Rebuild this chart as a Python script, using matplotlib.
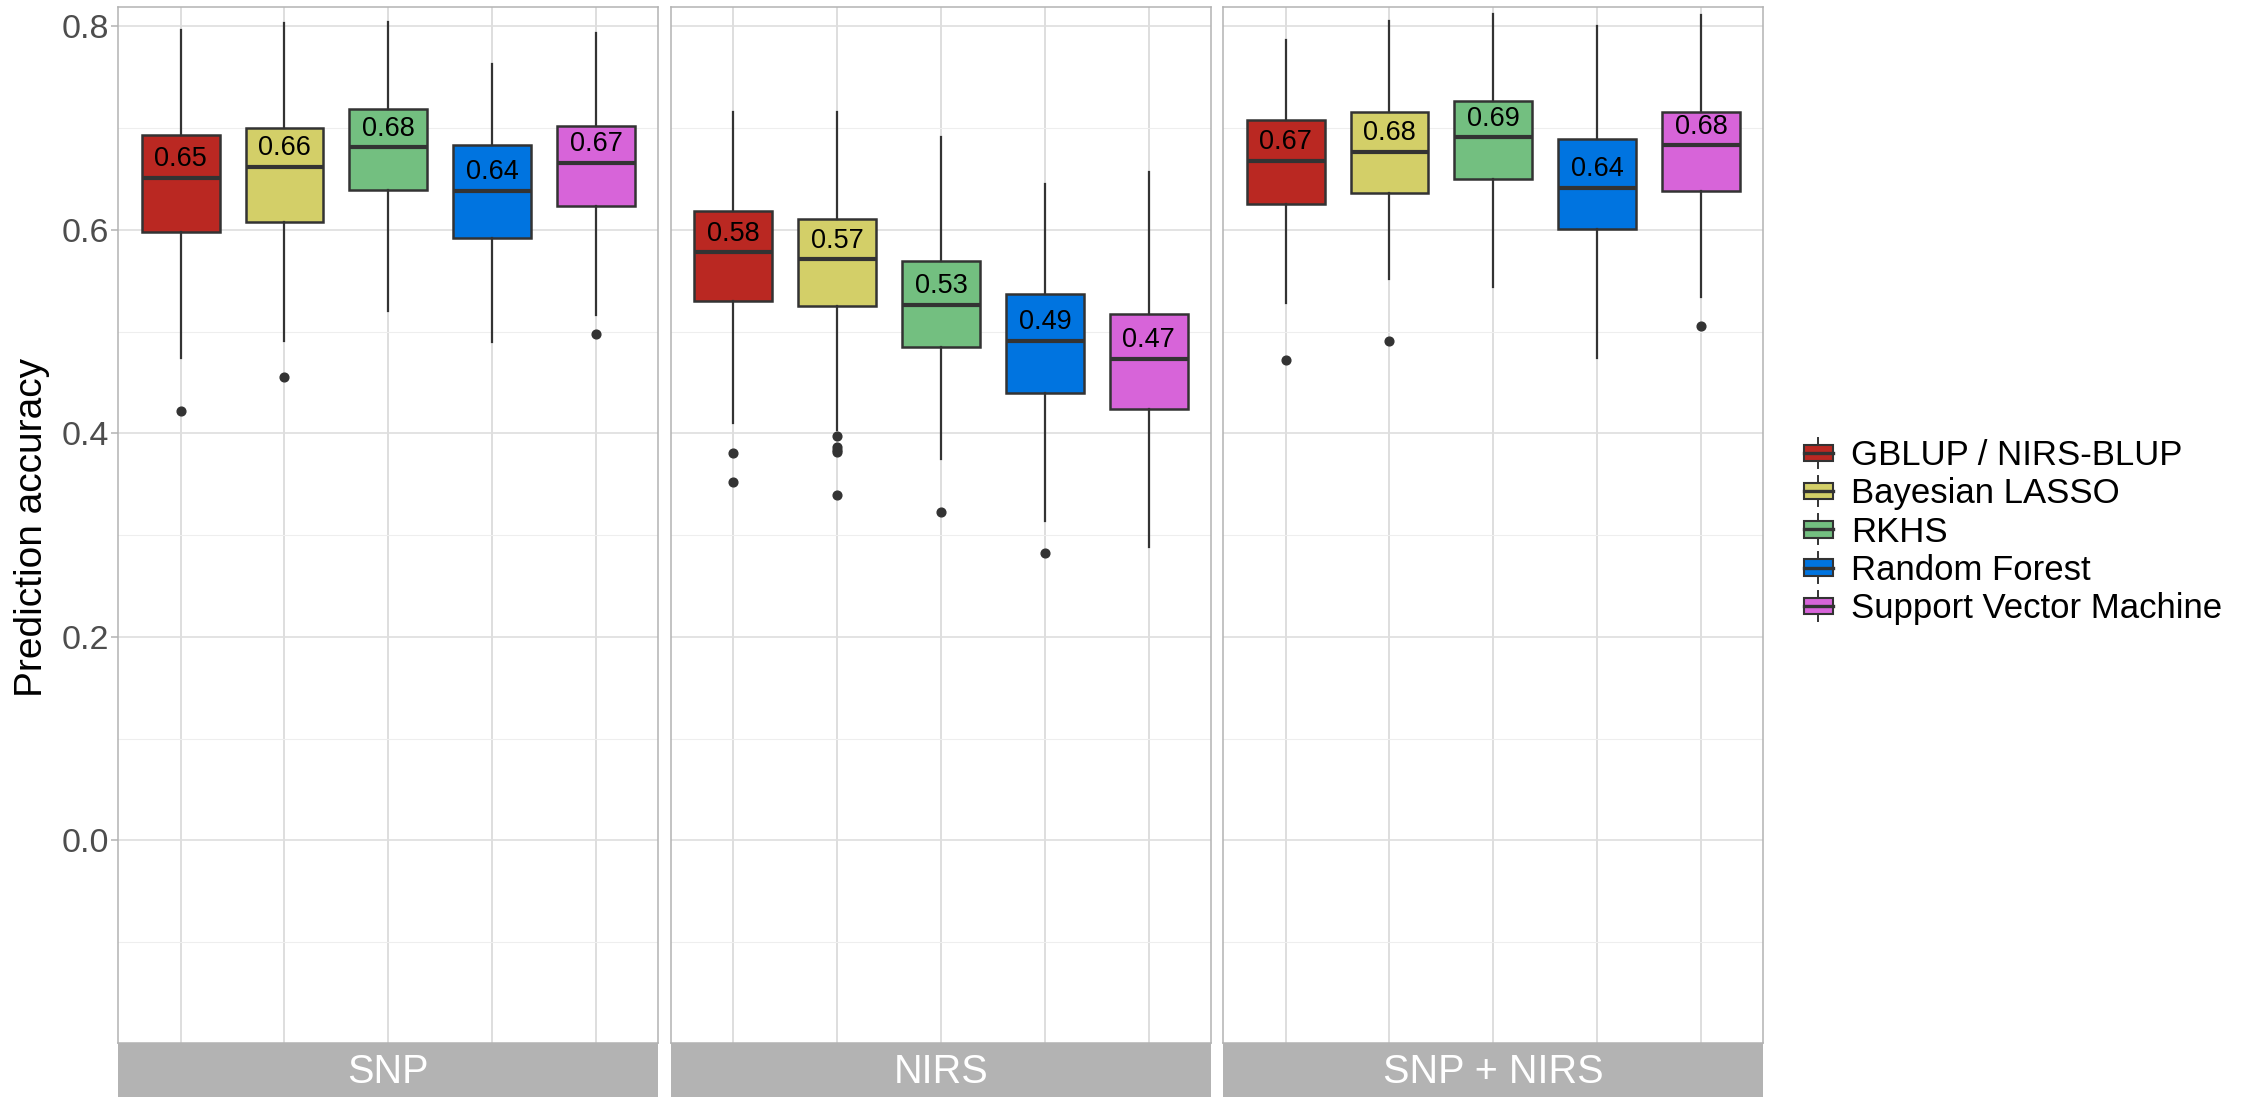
import matplotlib
matplotlib.use("Agg")
import matplotlib.pyplot as plt
from matplotlib.patches import Rectangle
from matplotlib.lines import Line2D
from matplotlib.legend_handler import HandlerBase

plt.rcParams['font.family'] = ['Liberation Sans', 'DejaVu Sans']

# ---- data -------------------------------------------------------------
panels = ["SNP", "NIRS", "SNP + NIRS"]
methods = ["GBLUP / NIRS-BLUP", "Bayesian LASSO", "RKHS",
           "Random Forest", "Support Vector Machine"]

snp_med = [0.651, 0.662, 0.681, 0.638, 0.666]
snp_q1 = [0.598, 0.608, 0.639, 0.592, 0.623]
snp_q3 = [0.693, 0.700, 0.719, 0.683, 0.702]
snp_lo = [0.474, 0.491, 0.520, 0.490, 0.516]
snp_hi = [0.796, 0.803, 0.804, 0.763, 0.793]
snp_out = [[0.422], [0.455], [], [], [0.498]]

nirs_med = [0.578, 0.571, 0.526, 0.491, 0.473]
nirs_q1 = [0.530, 0.525, 0.485, 0.440, 0.424]
nirs_q3 = [0.619, 0.611, 0.569, 0.537, 0.517]
nirs_lo = [0.410, 0.403, 0.375, 0.314, 0.288]
nirs_hi = [0.716, 0.716, 0.691, 0.645, 0.657]
nirs_out = [[0.381, 0.352], [0.397, 0.387, 0.384, 0.382, 0.339],
            [0.323], [0.282], []]

both_med = [0.668, 0.677, 0.691, 0.641, 0.683]
both_q1 = [0.625, 0.636, 0.650, 0.601, 0.638]
both_q3 = [0.708, 0.716, 0.727, 0.689, 0.716]
both_lo = [0.528, 0.552, 0.544, 0.474, 0.534]
both_hi = [0.787, 0.805, 0.812, 0.800, 0.811]
both_out = [[0.472], [0.491], [], [], [0.506]]

y_ticks = [0.0, 0.2, 0.4, 0.6, 0.8]
y_minor = [-0.1, 0.1, 0.3, 0.5, 0.7]

# ---- styling ----------------------------------------------------------
colors = ["#BA2822", "#D3CF68", "#73BF80", "#0074E0", "#D764D9"]
EDGE = "#333333"
GRID_MAJ = "#DEDEDE"
GRID_MIN = "#EEEEEE"
BORDER = "#B3B3B3"

W, H = 2251, 1097
fig = plt.figure(figsize=(W / 100, H / 100), dpi=100)

panel_left = [118.3, 671.0, 1223.3]
panel_w = 540.0
top_px, bot_px = 7.0, 1043.0

stats_by_panel = [
    (snp_med, snp_q1, snp_q3, snp_lo, snp_hi, snp_out),
    (nirs_med, nirs_q1, nirs_q3, nirs_lo, nirs_hi, nirs_out),
    (both_med, both_q1, both_q3, both_lo, both_hi, both_out),
]

positions = list(range(1, len(methods) + 1))

for pi, (name, st) in enumerate(zip(panels, stats_by_panel)):
    med, q1, q3, lo, hi, out = st
    ax = fig.add_axes([panel_left[pi] / W, 1 - bot_px / H,
                       panel_w / W, (bot_px - top_px) / H])
    ax.set_xlim(0.4, 5.6)
    ax.set_ylim(-0.199, 0.819)

    ax.set_yticks(y_ticks)
    ax.set_yticks(y_minor, minor=True)
    ax.set_xticks(positions)
    ax.grid(True, which='major', color=GRID_MAJ, lw=1.2, zorder=0)
    ax.grid(True, which='minor', axis='y', color=GRID_MIN, lw=0.8, zorder=0)
    ax.set_axisbelow(True)
    ax.tick_params(axis='x', length=0, labelbottom=False)
    ax.tick_params(axis='y', which='minor', length=0)
    if pi == 0:
        ax.tick_params(axis='y', which='major', length=5.4, width=1.1,
                       color=BORDER, labelsize=24.5, labelcolor="#4D4D4D", pad=1.5)
        ax.set_yticklabels([f"{v:.1f}" for v in y_ticks])
    else:
        ax.tick_params(axis='y', which='major', length=0, labelleft=False)
    for sp in ax.spines.values():
        sp.set_color(BORDER)
        sp.set_linewidth(1.1)

    stats = []
    for i in range(len(methods)):
        stats.append(dict(med=med[i], q1=q1[i], q3=q3[i],
                          whislo=lo[i], whishi=hi[i], fliers=out[i]))
    bp = ax.bxp(stats, positions=positions, widths=0.75, patch_artist=True,
                showcaps=False,
                boxprops=dict(edgecolor=EDGE, linewidth=1.8),
                medianprops=dict(color=EDGE, linewidth=3.0),
                whiskerprops=dict(color=EDGE, linewidth=1.6),
                flierprops=dict(marker='o', markerfacecolor=EDGE,
                                markeredgecolor=EDGE, markersize=6.3))
    for patch, c in zip(bp['boxes'], colors):
        patch.set_facecolor(c)
    for p, m in zip(positions, med):
        ax.annotate(f"{m:.2f}", xy=(p, m), xytext=(0, 13.5),
                    textcoords='offset points', ha='center', va='center',
                    fontsize=19.5, color='black', zorder=5)

    # facet strip below the panel
    sax = fig.add_axes([panel_left[pi] / W, 0, panel_w / W, (H - bot_px) / H])
    sax.set_xlim(0, 1)
    sax.set_ylim(0, 1)
    sax.set_facecolor(BORDER)
    for sp in sax.spines.values():
        sp.set_visible(False)
    sax.set_xticks([])
    sax.set_yticks([])
    sax.text(0.5, 0.47, name, ha='center', va='center', color='white',
             fontsize=28.5)

fig.text(31.6 / W, 1 - 527 / H, "Prediction accuracy", rotation=90,
         ha='center', va='center', fontsize=28, color='black')


# ---- legend with boxplot keys ----------------------------------------
class BoxKey(HandlerBase):
    def create_artists(self, legend, orig_handle, xdescent, ydescent,
                       width, height, fontsize, trans):
        fc = orig_handle.get_facecolor()
        bh = 11.8
        stub = 5.0
        x0 = -xdescent
        cy = -ydescent + height / 2
        rect = Rectangle((x0, cy - bh / 2), width, bh, facecolor=fc,
                         edgecolor=EDGE, linewidth=1.5, transform=trans)
        med = Line2D([x0, x0 + width], [cy, cy], color=EDGE, lw=2.4,
                     transform=trans)
        cx = x0 + width / 2
        w1 = Line2D([cx, cx], [cy + bh / 2, cy + bh / 2 + stub], color=EDGE,
                    lw=1.4, transform=trans)
        w2 = Line2D([cx, cx], [cy - bh / 2, cy - bh / 2 - stub], color=EDGE,
                    lw=1.4, transform=trans)
        return [w1, w2, rect, med]


handles = [Rectangle((0, 0), 1, 1, facecolor=c) for c in colors]
fs = 25
fig.legend(handles, methods, loc='center left',
           bbox_to_anchor=(1803.5 / W, 1 - 532 / H),
           frameon=False, fontsize=fs, handler_map={Rectangle: BoxKey()},
           handlelength=21.3 / fs, handleheight=0.7, handletextpad=0.53,
           labelspacing=0.15, borderpad=0, borderaxespad=0)

fig.savefig("out.png", dpi=100)
